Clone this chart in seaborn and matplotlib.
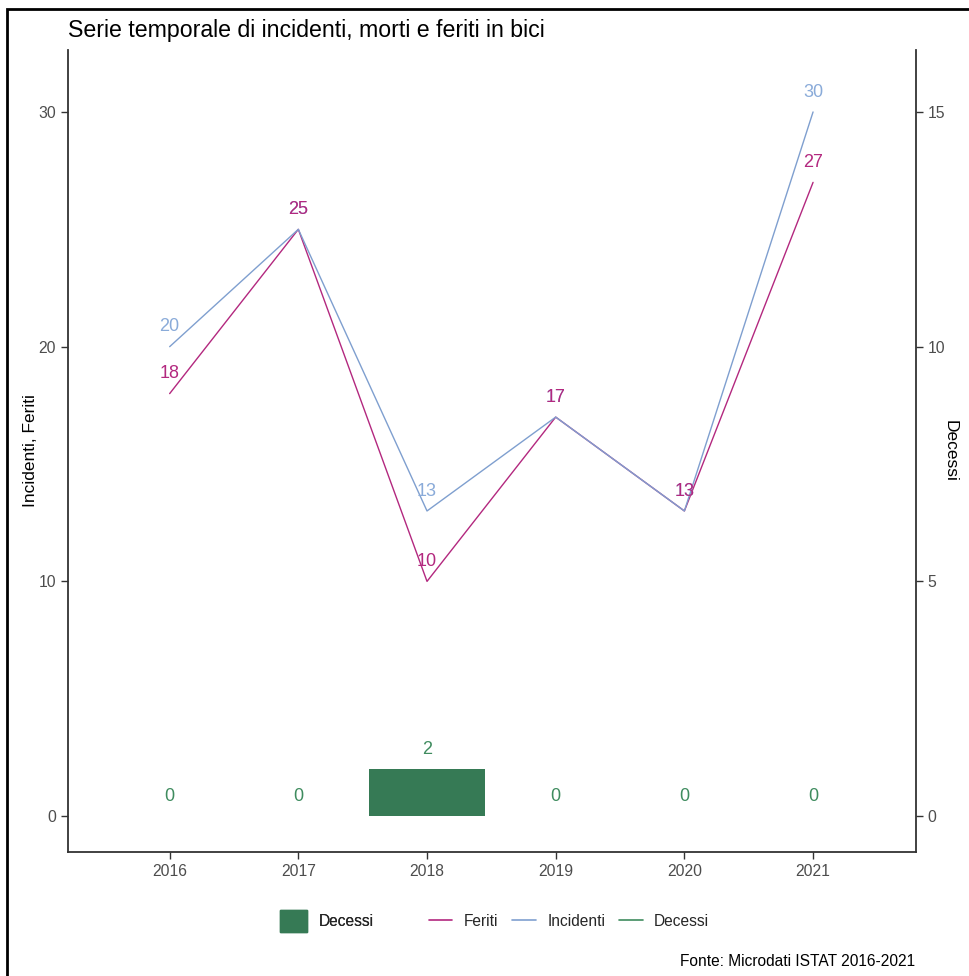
import matplotlib
matplotlib.use("Agg")
import matplotlib.pyplot as plt
import matplotlib.patches as mpatches
from matplotlib.lines import Line2D
import seaborn as sns
import pandas as pd

# ── data ──────────────────────────────────────────────────────────────────────
anni = [2016, 2017, 2018, 2019, 2020, 2021]
incidenti = [20, 25, 13, 17, 13, 30]
feriti = [18, 25, 10, 17, 13, 27]
decessi = [0, 0, 2, 0, 0, 0]

col_feriti = "#B3287F"
col_incidenti = "#7F9FCF"
col_inc_lab = "#8AABD9"
col_bar = "#367A55"
col_dec_lab = "#3F8C5F"

df = pd.DataFrame({"anno": anni * 2,
                   "valore": feriti + incidenti,
                   "serie": ["Feriti"] * 6 + ["Incidenti"] * 6})

sns.set_style("white")
plt.rcParams["font.family"] = ["Liberation Sans", "DejaVu Sans"]

fig = plt.figure(figsize=(9.7, 9.76), dpi=100)
ax = fig.add_axes([68 / 970, 1 - 852 / 976, 848 / 970, 802 / 976])

# ── bars (Decessi) ────────────────────────────────────────────────────────────
sns.barplot(x=anni, y=decessi, native_scale=True, width=0.9, color=col_bar,
            saturation=1, linewidth=0, ax=ax)

# ── lines ─────────────────────────────────────────────────────────────────────
sns.lineplot(data=df, x="anno", y="valore", hue="serie",
             hue_order=["Feriti", "Incidenti"],
             palette={"Feriti": col_feriti, "Incidenti": col_incidenti},
             linewidth=1.0, legend=False, ax=ax)

# ── value labels ──────────────────────────────────────────────────────────────
for x, v in zip(anni, incidenti):
    ax.text(x, v + 0.85, str(v), color=col_inc_lab, fontsize=13,
            ha="center", va="center")
for x, v in zip(anni, feriti):
    ax.text(x, v + 0.85, str(v), color=col_feriti, fontsize=13,
            ha="center", va="center")
for x, v in zip(anni, decessi):
    ax.text(x, v + 0.85, str(v), color=col_dec_lab, fontsize=13,
            ha="center", va="center")

# ── axes ──────────────────────────────────────────────────────────────────────
ax.set_xlim(2015.21, 2021.8)
ax.set_ylim(-1.53, 32.64)
ax.set_xticks(anni)
ax.set_xticklabels([str(a) for a in anni])
ax.set_yticks([0, 10, 20, 30])
ax.set_xlabel("")
ax.set_ylabel("Incidenti, Feriti", fontsize=12.5, color="black", labelpad=0)
ax.tick_params(axis="both", left=True, bottom=True, colors="#333333",
               labelcolor="#4D4D4D", labelsize=11.3, length=5, width=1,
               direction="out")
for s in ["top", "right"]:
    ax.spines[s].set_visible(False)
for s in ["left", "bottom"]:
    ax.spines[s].set_color("#333333")
    ax.spines[s].set_linewidth(1.3)

sec = ax.secondary_yaxis("right", functions=(lambda y: y / 2, lambda y: y * 2))
sec.set_yticks([0, 5, 10, 15])
sec.tick_params(right=True, colors="#333333", labelcolor="#4D4D4D",
                labelsize=11.3, length=5, width=1)
sec.spines["right"].set_color("#333333")
sec.spines["right"].set_linewidth(1.3)
sec.set_ylabel("Decessi", fontsize=12.5, color="black", rotation=-90,
               labelpad=9)

# ── title / caption ───────────────────────────────────────────────────────────
fig.text(68 / 970, 1 - 30 / 976, "Serie temporale di incidenti, morti e feriti in bici",
         fontsize=16.7, color="black", ha="left", va="center")
fig.text(915 / 970, 1 - 961 / 976, "Fonte: Microdati ISTAT 2016-2021",
         fontsize=11.2, color="black", ha="right", va="center")

# ── legends ───────────────────────────────────────────────────────────────────
leg1 = fig.legend(handles=[mpatches.Patch(color=col_bar, label="Decessi")],
                  loc="center", bbox_to_anchor=(327 / 970, 1 - 921 / 976),
                  frameon=False, fontsize=11.2, handlelength=1.75,
                  handleheight=1.75, handletextpad=0.75)
line_handles = [Line2D([], [], color=col_feriti, lw=1.2, label="Feriti"),
                Line2D([], [], color=col_incidenti, lw=1.2, label="Incidenti"),
                Line2D([], [], color=col_dec_lab, lw=1.2, label="Decessi")]
fig.legend(handles=line_handles, loc="center", ncol=3,
           bbox_to_anchor=(569 / 970, 1 - 921 / 976), frameon=False,
           fontsize=11.2, handlelength=1.5, handletextpad=0.75,
           columnspacing=0.9)
fig.add_artist(leg1)

# outer frame
fig.add_artist(mpatches.Rectangle((7 / 970, -0.05), 1.2, 1 - 9 / 976 + 0.05,
                                  transform=fig.transFigure, fill=False,
                                  edgecolor="black", linewidth=2))

fig.savefig("out.png", dpi=100)
